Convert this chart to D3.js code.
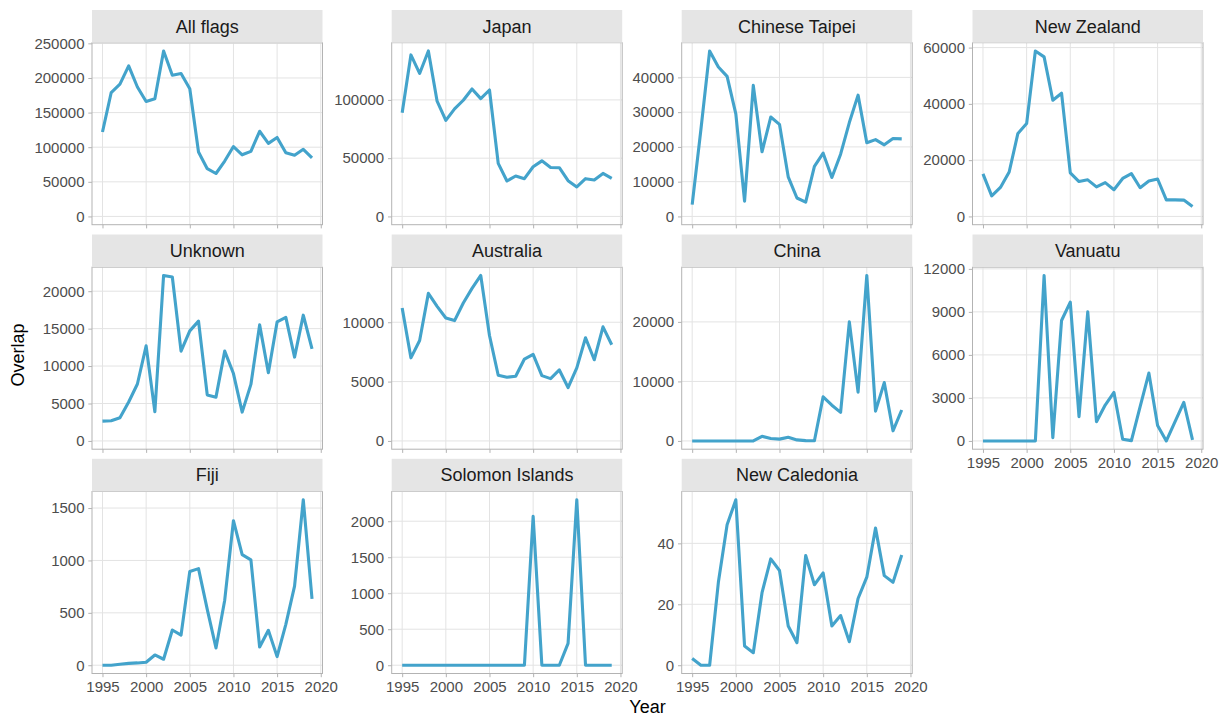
<!DOCTYPE html>
<html>
<head>
<meta charset="utf-8">
<script src="https://cdn.jsdelivr.net/npm/d3@7"></script>
<style>
  html, body { margin: 0; padding: 0; background: #ffffff; }
  svg { display: block; font-family: "Liberation Sans", Arial, Helvetica, sans-serif; }
</style>
</head>
<body>
<svg id="chart" width="1221" height="720"></svg>
<script>
// ---- data ----
const years = [1995,1996,1997,1998,1999,2000,2001,2002,2003,2004,2005,2006,2007,2008,2009,2010,2011,2012,2013,2014,2015,2016,2017,2018,2019];
const facetNames = ["All flags","Japan","Chinese Taipei","New Zealand","Unknown","Australia","China","Vanuatu","Fiji","Solomon Islands","New Caledonia"];

const allFlags = [122000,179000,191000,217500,187000,166000,170000,239000,204000,206500,184500,93000,69000,62000,80000,101000,89000,94000,123000,105500,114000,92000,88500,97000,84500];
const japan = [88900,138600,122700,142000,98900,82400,92300,99700,109400,101100,108500,45500,30400,34700,32400,42600,47700,42000,41800,30700,25300,32400,31300,36900,32700];
const chineseTaipei = [3400,25000,47600,43000,40300,29500,4400,37700,18600,28600,26500,11400,5300,4100,14400,18200,11200,17900,27000,34900,21200,22100,20600,22400,22300];
const newZealand = [15100,7300,10300,15800,29500,33000,58800,56700,41300,43800,15500,12400,13000,10500,12000,9500,13500,15200,10200,12600,13300,5900,5900,5800,3500];
const unknown = [2650,2700,3100,5200,7600,12700,3900,22100,21900,12000,14700,16000,6150,5850,12000,9000,3850,7550,15500,9100,15900,16500,11200,16800,12300];
const australia = [11200,7000,8460,12430,11340,10360,10140,11620,12850,13940,8880,5530,5360,5450,6900,7290,5500,5250,5980,4500,6150,8690,6840,9610,8100];
const china = [0,0,0,0,0,0,0,0,780,400,300,600,170,50,30,7400,6000,4800,20000,8200,27800,5000,9800,1700,5200];
const vanuatu = [0,0,0,0,0,0,0,11540,230,8400,9680,1690,9000,1340,2500,3380,120,20,2400,4730,1070,0,1350,2690,70];
const fiji = [0,0,10,18,22,28,98,57,336,288,894,922,533,165,621,1379,1056,1005,174,333,82,390,755,1579,634];
const solomonIslands = [0,0,0,0,0,0,0,0,0,0,0,0,0,0,0,2068,0,0,0,303,2298,0,0,0,0];
const newCaledonia = [2.2,0,0,27.2,46.1,54.3,6.3,4.1,23.8,34.9,31.1,12.9,7.4,36,26.4,30.3,12.9,16.3,7.7,21.9,28.9,45,29.4,27.2,36.2];

const seriesValues = [allFlags, japan, chineseTaipei, newZealand, unknown, australia, china, vanuatu, fiji, solomonIslands, newCaledonia];

const yTickValues = [
  [0,50000,100000,150000,200000,250000],
  [0,50000,100000],
  [0,10000,20000,30000,40000],
  [0,20000,40000,60000],
  [0,5000,10000,15000,20000],
  [0,5000,10000],
  [0,10000,20000],
  [0,3000,6000,9000,12000],
  [0,500,1000,1500],
  [0,500,1000,1500,2000],
  [0,20,40]
];
const xTickValues = [1995,2000,2005,2010,2015,2020];
const xTitle = "Year";
const yTitle = "Overlap";

// ---- layout ----
const colLeft = [92, 391.7, 681.7, 972.5];
const rowTop = [10, 234.5, 458.8];
const panelW = 230.5, stripH = 32.7, panelH = 182;
const nCols = 4;
const lineColor = "#43a3cb";

const svg = d3.select("#chart");

facetNames.forEach((name, i) => {
  const col = i % nCols, row = Math.floor(i / nCols);
  const left = colLeft[col];
  const top = rowTop[row];
  const pTop = top + stripH;
  const pBottom = pTop + panelH;
  const vals = seriesValues[i];

  const yMax = d3.max(vals), yMin = Math.min(0, d3.min(vals));
  const span = yMax - yMin;
  const x = d3.scaleLinear().domain([1995 - 24 * 0.05, 2019 + 24 * 0.05]).range([left, left + panelW]);
  const y = d3.scaleLinear().domain([yMin - span * 0.05, yMax + span * 0.05]).range([pBottom, pTop]);

  const g = svg.append("g");

  // panel background
  g.append("rect").attr("x", left).attr("y", pTop).attr("width", panelW).attr("height", panelH).attr("fill", "#ffffff");

  // gridlines
  const grid = g.append("g");
  grid.selectAll("line.h").data(yTickValues[i]).join("line")
    .attr("x1", left).attr("x2", left + panelW)
    .attr("y1", d => y(d)).attr("y2", d => y(d))
    .attr("stroke", "#e3e3e3").attr("stroke-width", 1);
  grid.selectAll("line.v").data(xTickValues.filter(d => x(d) < left + panelW)).join("line")
    .attr("x1", d => x(d)).attr("x2", d => x(d))
    .attr("y1", pTop).attr("y2", pBottom)
    .attr("stroke", "#e3e3e3").attr("stroke-width", 1);

  // line
  const line = d3.line().x((d, k) => x(years[k])).y(d => y(d));
  g.append("path").datum(vals).attr("d", line)
    .attr("fill", "none").attr("stroke", lineColor).attr("stroke-width", 3.1)
    .attr("stroke-linejoin", "round");

  // panel border
  g.append("rect").attr("x", left).attr("y", pTop).attr("width", panelW).attr("height", panelH)
    .attr("fill", "none").attr("stroke", "#b3b3b3").attr("stroke-width", 1);

  // strip
  g.append("rect").attr("x", left).attr("y", top).attr("width", panelW).attr("height", stripH)
    .attr("fill", "#e5e5e5");
  g.append("text").attr("x", left + panelW / 2).attr("y", top + stripH / 2 + 6.3)
    .attr("text-anchor", "middle").attr("font-size", 18).attr("fill", "#1a1a1a").text(name);

  // y axis
  const yAxis = d3.axisLeft(y).tickValues(yTickValues[i]).tickSize(3.7).tickPadding(3.8).tickFormat(d3.format("d"));
  const ya = g.append("g").attr("transform", `translate(${left},0)`).call(yAxis);
  ya.select(".domain").remove();
  ya.selectAll(".tick line").attr("stroke", "#b3b3b3");
  ya.selectAll(".tick text").attr("font-size", 15).attr("fill", "#4d4d4d")
    .attr("font-family", "'Liberation Sans', Arial, Helvetica, sans-serif");

  // x axis: only for bottom panel in each column
  const isBottom = (i + nCols) >= facetNames.length;
  const xAxis = d3.axisBottom(x).tickValues(xTickValues).tickSize(3.7).tickPadding(4).tickFormat(d3.format("d"));
  const xa = g.append("g").attr("transform", `translate(0,${pBottom})`).call(xAxis);
  xa.select(".domain").remove();
  xa.selectAll(".tick line").attr("stroke", "#b3b3b3");
  if (isBottom) {
    xa.selectAll(".tick text").attr("font-size", 15).attr("fill", "#4d4d4d")
      .attr("font-family", "'Liberation Sans', Arial, Helvetica, sans-serif");
  } else {
    xa.selectAll(".tick text").remove();
  }
});

// axis titles
svg.append("text").attr("x", (colLeft[0] + colLeft[3] + panelW) / 2).attr("y", 713)
  .attr("text-anchor", "middle").attr("font-size", 18).attr("fill", "#000").text(xTitle);
svg.append("text").attr("transform", "translate(23.5,355) rotate(-90)")
  .attr("text-anchor", "middle").attr("font-size", 18).attr("fill", "#000").text(yTitle);
</script>
</body>
</html>
